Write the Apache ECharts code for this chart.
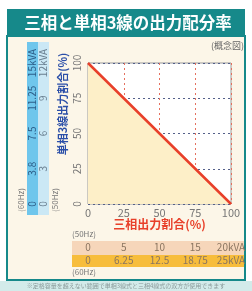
<!DOCTYPE html>
<html>
<head>
<meta charset="utf-8">
<style>
  html, body { margin: 0; padding: 0; background: #fff; }
  #main { width: 252px; height: 291px; }
</style>
<script src="https://cdn.jsdelivr.net/npm/echarts@6.0.0/dist/echarts.min.js"></script>
</head>
<body>
<div id="main"></div>
<script>
// 三相出力割合 / 単相3線出力割合 (%)
var threePhase = [0, 25, 50, 75, 100];
var singlePhase = [100, 75, 50, 25, 0];
var pctTicks = ['0', '25', '50', '75', '100'];
// 三相側 kVA
var three50 = ['0', '5', '10', '15', '20kVA'];
var three60 = ['0', '6.25', '12.5', '18.75', '25kVA'];
// 単相3線側 kVA
var single50 = ['0', '3', '6', '9', '12kVA'];
var single60 = ['0', '3.8', '7.5', '11.25', '15kVA'];

var FONT = '"Noto Sans CJK JP", "Noto Sans", sans-serif';
var TEAL = '#16898a';

function pick(list){
    return function(v){
        var i = Math.round(v / 25);
        return list[i] == null ? '' : list[i];
    };
}

var chart = echarts.init(document.getElementById('main'));

var gridL = 88, gridT = 63, gridW = 143, gridH = 141;

var option = {
    backgroundColor: '#fff',
    textStyle: { fontFamily: FONT },
    animation: false,
    grid: {
        left: gridL, top: gridT, width: gridW, height: gridH,
        show: true, backgroundColor: '#fff', borderColor: '#9a9a9a', borderWidth: 1
    },
    graphic: [
        // 本体の枠
        { type: 'rect', z: -10, shape: { x: 7, y: 36, width: 238, height: 244 },
          style: { fill: '#fcf6e8', stroke: TEAL, lineWidth: 2 } },
        { type: 'rect', z: -9, shape: { x: 7, y: 9, width: 238, height: 28 },
          style: { fill: TEAL } },
        { type: 'text', z: 10, x: 128, y: 23,
          style: { text: '三相と単相3線の出力配分率', fill: '#fff', font: 'bold 16.5px ' + FONT,
                   align: 'center', verticalAlign: 'middle' } },
        { type: 'text', z: 10, x: 244, y: 46,
          style: { text: '(概念図)', fill: '#666', font: '9px ' + FONT,
                   align: 'right', verticalAlign: 'middle' } },
        // 左の kVA 列
        { type: 'rect', z: -8, shape: { x: 27, y: 42, width: 11, height: 173 },
          style: { fill: '#6fc6ec' } },
        { type: 'rect', z: -8, shape: { x: 38, y: 42, width: 11, height: 173 },
          style: { fill: '#cbe8f5' } },
        { type: 'text', z: 10, x: 21, y: 200, rotation: Math.PI / 2,
          style: { text: '(60Hz)', fill: '#777', font: '8px ' + FONT,
                   align: 'center', verticalAlign: 'middle' } },
        { type: 'text', z: 10, x: 55, y: 200, rotation: Math.PI / 2,
          style: { text: '(50Hz)', fill: '#777', font: '8px ' + FONT,
                   align: 'center', verticalAlign: 'middle' } },
        { type: 'text', z: 10, x: 63, y: 104, rotation: Math.PI / 2,
          style: { text: '単相3線出力割合(%)', fill: '#2b4fa8', font: 'bold 11px ' + FONT,
                   align: 'center', verticalAlign: 'middle' } },
        // 下の kVA 行
        { type: 'rect', z: -8, shape: { x: 72, y: 241, width: 172, height: 14 },
          style: { fill: '#f6d6ba' } },
        { type: 'rect', z: -8, shape: { x: 72, y: 255, width: 172, height: 12 },
          style: { fill: '#f7bd3c' } },
        { type: 'text', z: 10, x: 72, y: 234,
          style: { text: '(50Hz)', fill: '#777', font: '8px ' + FONT, verticalAlign: 'middle' } },
        { type: 'text', z: 10, x: 72, y: 272,
          style: { text: '(60Hz)', fill: '#777', font: '8px ' + FONT, verticalAlign: 'middle' } },
        // 注記
        { type: 'rect', z: -8, shape: { x: 0, y: 281, width: 252, height: 10 },
          style: { fill: '#d3ebea' } },
        { type: 'text', z: 10, x: 126, y: 286,
          style: { text: '※定格容量を超えない範囲で単相3線式と三相4線式の双方が使用できます', fill: '#8a9a9a',
                   font: '6px ' + FONT, align: 'center', verticalAlign: 'middle' } }
    ],
    xAxis: [
        {
            type: 'value', min: 0, max: 100, interval: 25,
            name: '三相出力割合(%)', nameLocation: 'middle', nameGap: 14,
            nameTextStyle: { color: '#e8402a', fontSize: 12, fontWeight: 'bold', fontFamily: FONT },
            axisLine: { show: false }, axisTick: { show: false },
            axisLabel: { color: '#777', fontSize: 11, margin: 3, formatter: pick(pctTicks) },
            splitLine: { show: true, lineStyle: { color: '#e5705e', type: [2, 3], width: 1 } }
        },
        {
            type: 'value', min: 0, max: 100, interval: 25, position: 'bottom', offset: 30,
            axisLine: { show: false }, axisTick: { show: false }, splitLine: { show: false },
            axisLabel: { color: '#8a7560', fontSize: 10, margin: 8, formatter: pick(three50) }
        },
        {
            type: 'value', min: 0, max: 100, interval: 25, position: 'bottom', offset: 43,
            axisLine: { show: false }, axisTick: { show: false }, splitLine: { show: false },
            axisLabel: { color: '#8a7560', fontSize: 10, margin: 8, formatter: pick(three60) }
        }
    ],
    yAxis: [
        {
            type: 'value', min: 0, max: 100, interval: 25,
            axisLine: { show: false }, axisTick: { show: false },
            axisLabel: { color: '#777', fontSize: 10, rotate: 90, margin: 6, formatter: pick(pctTicks) },
            splitLine: { show: true, lineStyle: { color: '#54608a', type: [2, 3], width: 1 } }
        },
        {
            type: 'value', min: 0, max: 100, interval: 25, position: 'left', offset: 40,
            axisLine: { show: false }, axisTick: { show: false }, splitLine: { show: false },
            axisLabel: { color: '#6a7f90', fontSize: 10, rotate: 90, margin: 0, formatter: pick(single50) }
        },
        {
            type: 'value', min: 0, max: 100, interval: 25, position: 'left', offset: 51,
            axisLine: { show: false }, axisTick: { show: false }, splitLine: { show: false },
            axisLabel: { color: '#2d5f8a', fontSize: 10, rotate: 90, margin: 0, formatter: pick(single60) }
        }
    ],
    series: [{
        type: 'line',
        data: threePhase.map(function(x, i){ return [x, singlePhase[i]]; }),
        symbol: 'none',
        lineStyle: { color: '#e8402a', width: 2.5 },
        areaStyle: { color: '#fdefc8', opacity: 1 }
    }]
};

chart.setOption(option);
</script>
</body>
</html>
